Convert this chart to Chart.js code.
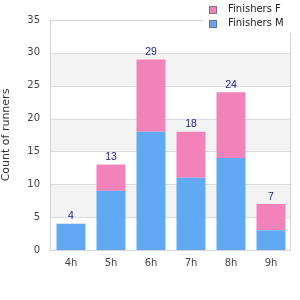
<!DOCTYPE html>
<html><head><meta charset="utf-8">
<script src="https://cdn.jsdelivr.net/npm/chart.js@4/dist/chart.umd.min.js"></script>
<style>html,body{margin:0;padding:0;background:#fff}#wrap{width:300px;height:300px}</style>
</head><body><div id="wrap"><canvas id="c" width="300" height="300"></canvas></div>
<script>
const categories = ["4h","5h","6h","7h","8h","9h"];
const finishersM = [4, 9, 18, 11, 14, 3];
const finishersF = [0, 4, 11, 7, 10, 4];
const yTicks = [0,5,10,15,20,25,30,35];
const colorM = "#62a9f3";
const colorF = "#f283ba";

const bandsPlugin = {
  id: "bands",
  beforeDatasetsDraw(chart) {
    const {ctx, chartArea:a, scales:{y}} = chart;
    const L = Math.round(a.left) - 1, R = Math.round(a.right) - 1;
    ctx.save();
    ctx.fillStyle = "#f3f3f3";
    for (let i = 1; i < yTicks.length - 1; i += 2) {
      const top = y.getPixelForValue(yTicks[i+1]);
      const bot = y.getPixelForValue(yTicks[i]);
      ctx.fillRect(L, top, R - L, bot - top);
    }
    ctx.strokeStyle = "#dcdcdc"; ctx.lineWidth = 1;
    yTicks.forEach(v => {
      const p = Math.round(y.getPixelForValue(v)) + 0.5;
      ctx.beginPath(); ctx.moveTo(L, p); ctx.lineTo(R, p); ctx.stroke();
    });
    ctx.strokeStyle = "#d4d4d4";
    ctx.strokeRect(L + 0.5, Math.round(a.top) + 0.5, R - L, Math.round(a.bottom - a.top));
    ctx.restore();
  },
  afterDraw(chart) {
    const {ctx} = chart;
    const meta = chart.getDatasetMeta(1);
    ctx.save();
    ctx.fillStyle = "#1c1c96";
    ctx.font = "10.5px 'Liberation Sans', Arial, sans-serif";
    ctx.textAlign = "center"; ctx.textBaseline = "alphabetic";
    categories.forEach((c, i) => {
      const total = finishersM[i] + finishersF[i];
      const x = meta.data[i].x;
      const yy = chart.scales.y.getPixelForValue(total);
      ctx.fillText(String(total), x, yy - 4.5);
    });
    // legend
    ctx.fillStyle = "#fff";
    ctx.fillRect(203, 0, 97, 33);
    const items = [["Finishers F", colorF], ["Finishers M", colorM]];
    ctx.font = "10px 'DejaVu Sans', sans-serif";
    ctx.textAlign = "left"; ctx.textBaseline = "middle";
    items.forEach((it, k) => {
      const yy = 9.5 + k * 14;
      ctx.fillStyle = it[1];
      ctx.fillRect(209, yy - 3.5, 7, 7);
      ctx.strokeStyle = "#777"; ctx.lineWidth = 1;
      ctx.strokeRect(209.5, yy - 3, 7, 7);
      ctx.fillStyle = "#222";
      ctx.fillText(it[0], 228, yy);
    });
    ctx.restore();
  }
};

new Chart(document.getElementById("c"), {
  type: "bar",
  data: {
    labels: categories,
    datasets: [
      {label: "Finishers M", data: finishersM, backgroundColor: colorM, borderWidth: 0},
      {label: "Finishers F", data: finishersF, backgroundColor: colorF, borderWidth: 0}
    ]
  },
  options: {
    responsive: false, animation: false,
    layout: {padding: {left: 0, top: 20, right: 9, bottom: 30}},
    plugins: {legend: {display: false}, tooltip: {enabled: false}},
    datasets: {bar: {barPercentage: 0.725, categoryPercentage: 1}},
    scales: {
      x: {
        stacked: true,
        grid: {display: false, drawTicks: false},
        border: {display: false},
        ticks: {color: "#444", font: {family: "DejaVu Sans", size: 10}, padding: 7},
        afterFit(s) { s.height = 20; }
      },
      y: {
        stacked: true, min: 0, max: 35,
        grid: {display: false, drawTicks: false},
        border: {display: false},
        ticks: {stepSize: 5, color: "#444", font: {family: "DejaVu Sans", size: 10}, padding: 11},
        title: {display: true, text: "Count of runners", color: "#333", font: {family: "DejaVu Sans", size: 11}, padding: {top: 0, bottom: 0}},
        afterFit(s) { s.width = 51; }
      }
    }
  },
  plugins: [bandsPlugin]
});
</script></body></html>
